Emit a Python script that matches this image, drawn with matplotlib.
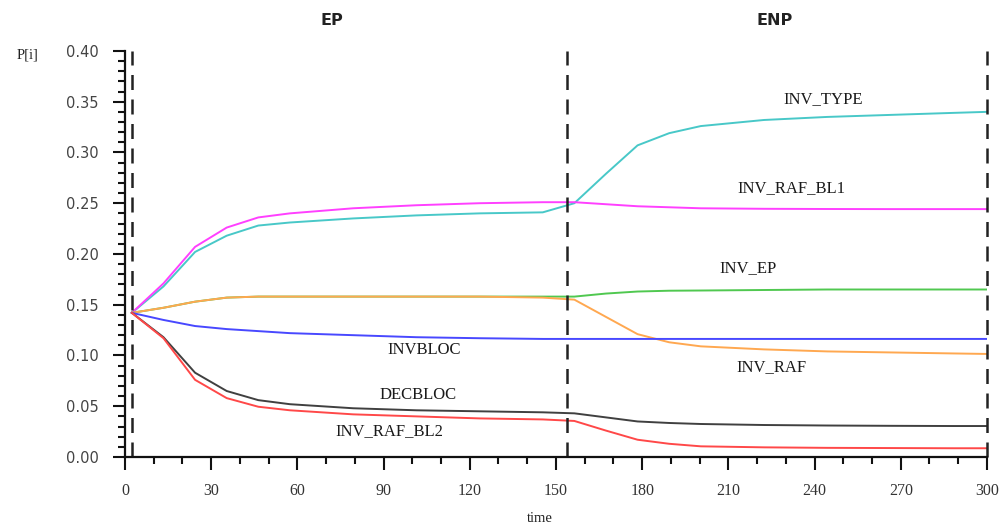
import matplotlib

matplotlib.use("Agg")
import matplotlib.pyplot as plt
from matplotlib.ticker import MultipleLocator

# sample times
times = [2.4, 13.4, 24.4, 35.4, 46.4, 57.4, 79.4, 101.4, 123.4, 145.4, 156.4,
         167.4, 178.4, 189.4, 200.4, 222.4, 244.4, 266.4, 288.4, 300]

inv_type = [0.142, 0.168, 0.202, 0.218, 0.228, 0.231, 0.235, 0.238, 0.240, 0.241, 0.250,
            0.279, 0.307, 0.319, 0.326, 0.332, 0.335, 0.337, 0.339, 0.340]
inv_raf_bl1 = [0.142, 0.171, 0.207, 0.226, 0.236, 0.240, 0.245, 0.248, 0.250, 0.251, 0.251,
               0.249, 0.247, 0.246, 0.245, 0.2445, 0.2443, 0.2442, 0.2442, 0.2442]
inv_ep = [0.142, 0.147, 0.153, 0.157, 0.158, 0.158, 0.158, 0.158, 0.158, 0.158, 0.158,
          0.161, 0.163, 0.1638, 0.164, 0.1645, 0.165, 0.165, 0.165, 0.165]
inv_raf = [0.142, 0.147, 0.153, 0.157, 0.158, 0.158, 0.158, 0.158, 0.158, 0.157, 0.155,
           0.138, 0.121, 0.113, 0.109, 0.106, 0.104, 0.103, 0.102, 0.1015]
invbloc = [0.142, 0.135, 0.129, 0.126, 0.124, 0.122, 0.120, 0.118, 0.117, 0.1163, 0.1163,
           0.1163, 0.1163, 0.1163, 0.1163, 0.1163, 0.1163, 0.1163, 0.1163, 0.1163]
decbloc = [0.142, 0.118, 0.083, 0.065, 0.056, 0.052, 0.048, 0.046, 0.045, 0.044, 0.043,
           0.039, 0.035, 0.0335, 0.0325, 0.0315, 0.031, 0.0307, 0.0305, 0.0305]
inv_raf_bl2 = [0.142, 0.117, 0.076, 0.058, 0.0495, 0.046, 0.042, 0.040, 0.038, 0.037, 0.0355,
               0.026, 0.017, 0.013, 0.0105, 0.0095, 0.009, 0.0088, 0.0086, 0.0086]

series = [
    ("INV_TYPE", inv_type, "#48c8c8", (243, 0.353)),
    ("INV_RAF_BL1", inv_raf_bl1, "#ff40ff", (232, 0.265)),
    ("INV_EP", inv_ep, "#50c850", (217, 0.186)),
    ("INV_RAF", inv_raf, "#ffa850", (225, 0.089)),
    ("INVBLOC", invbloc, "#4848ff", (104, 0.105)),
    ("DECBLOC", decbloc, "#404040", (102, 0.061)),
    ("INV_RAF_BL2", inv_raf_bl2, "#ff4848", (92, 0.025)),
]

phase_lines = [2.4, 154, 300]
phases = [("EP", 72), ("ENP", 226)]

fig = plt.figure(figsize=(10.07, 5.28), dpi=100)
ax = fig.add_axes([0.1241, 0.1345, 0.8560, 0.7690])

for name, values, color, (lx, ly) in series:
    ax.plot(times, values, color=color, lw=1.4)
    ax.text(lx, ly, name, ha="center", va="center", fontsize=12,
            family="Liberation Serif", color="#1a1a1a")

# phase boundaries
for x in phase_lines:
    ax.plot([x, x], [0, 0.40], color="#222222", lw=1.8, dashes=(6, 3.8), clip_on=False)

for name, x in phases:
    ax.text(x, 0.43, name, ha="center", va="center", fontsize=11.5,
            fontweight="bold", family="DejaVu Sans", color="#222222")

ax.set_xlim(0, 300)
ax.set_ylim(0, 0.40)
ax.spines["top"].set_visible(False)
ax.spines["right"].set_visible(False)
for side in ("left", "bottom"):
    ax.spines[side].set_linewidth(1.6)
    ax.spines[side].set_color("#111111")

ax.xaxis.set_major_locator(MultipleLocator(30))
ax.xaxis.set_minor_locator(MultipleLocator(10))
ax.yaxis.set_major_locator(MultipleLocator(0.05))
ax.yaxis.set_minor_locator(MultipleLocator(0.01))
ax.tick_params(which="major", length=9, width=1.5, color="#111111")
ax.tick_params(which="minor", length=5, width=1.5, color="#111111")
ax.tick_params(axis="x", which="major", length=9, pad=10)
ax.tick_params(axis="y", which="major", pad=10)

ax.set_xticks(range(0, 301, 30))
ax.set_xticklabels([str(v) for v in range(0, 301, 30)], family="Liberation Serif",
                   fontsize=11.5, color="#333333")
yt = [i * 0.05 for i in range(9)]
ax.set_yticks(yt)
ax.set_yticklabels([f"{v:.2f}" for v in yt], family="DejaVu Sans", fontsize=10.5,
                   color="#444444")

fig.text(28 / 1007, 1 - 55 / 528, "P[i]", ha="center", va="center",
         fontsize=10.5, family="Liberation Serif", color="#222222")
fig.text(540 / 1007, 1 - 518 / 528, "time", ha="center", va="center",
         fontsize=10.5, family="Liberation Serif", color="#222222")

fig.savefig("out.png", dpi=100)
plt.close(fig)
